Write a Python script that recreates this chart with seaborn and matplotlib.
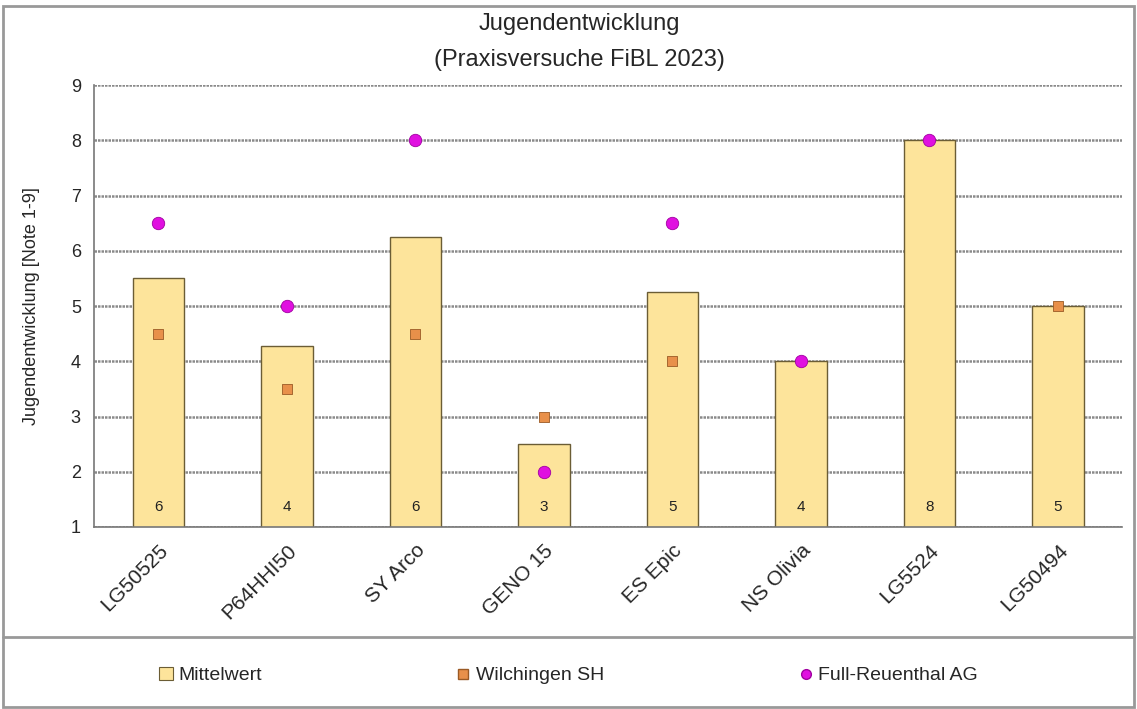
import numpy as np
import pandas as pd
import matplotlib
matplotlib.use("Agg")
import matplotlib.pyplot as plt
from matplotlib.lines import Line2D
from matplotlib.patches import Rectangle
import seaborn as sns

# Daten
sorten = ["LG50525", "P64HHI50", "SY Arco", "GENO 15", "ES Epic", "NS Olivia", "LG5524", "LG50494"]
mittelwert = [5.5, 4.27, 6.25, 2.5, 5.25, 4.0, 8.0, 5.0]
wilchingen = [4.5, 3.5, 4.5, 3.0, 4.0, np.nan, np.nan, 5.0]
full_reuenthal = [6.5, 5.0, 8.0, 2.0, 6.5, 4.0, 8.0, np.nan]
anzahl = [6, 4, 6, 3, 5, 4, 8, 5]

df = pd.DataFrame({"Sorte": sorten, "Mittelwert": mittelwert,
                   "Wilchingen SH": wilchingen, "Full-Reuenthal AG": full_reuenthal,
                   "n": anzahl})

sns.set_style("white")
plt.rcParams["font.family"] = ["Liberation Sans", "DejaVu Sans"]

fig = plt.figure(figsize=(11.37, 7.09), dpi=100)
ax = fig.add_axes([0.0827, 0.2567, 0.9043, 0.6233])

bar_col = "#FDE49B"
orange = "#E8904A"
magenta = "#E010E0"

sns.barplot(data=df, x="Sorte", y="Mittelwert", color=bar_col, width=0.4,
            edgecolor="#6b5d35", linewidth=1.0, saturation=1, ax=ax, zorder=2)
pos = np.arange(len(sorten))
sns.scatterplot(x=pos, y=df["Wilchingen SH"], marker="s", s=60, color=orange,
                edgecolor="#9a5a25", linewidth=0.6, ax=ax, zorder=3)
sns.scatterplot(x=pos, y=df["Full-Reuenthal AG"], marker="o", s=80, color=magenta,
                edgecolor="#a000a0", linewidth=0.6, ax=ax, zorder=4)

for i, n in enumerate(anzahl):
    ax.text(i, 1.36, str(n), ha="center", va="center", fontsize=11, color="#222222", zorder=5)

ax.set_ylim(1, 9)
ax.set_xlim(-0.5, len(sorten) - 0.5)
ax.set_yticks(range(1, 10))
ax.yaxis.grid(True, color="#8a8a8a", linewidth=1.8, linestyle=(0, (1, 0.4)), zorder=0)
ax.set_axisbelow(True)

ax.set_xticks(pos)
ax.set_xticklabels(sorten, rotation=45, ha="right", rotation_mode="anchor", fontsize=15)
ax.set_xticks(np.arange(-0.5, len(sorten)), minor=True)
ax.tick_params(axis="x", which="major", length=0, pad=10)
ax.tick_params(axis="x", which="minor", length=6, width=1, color="#777777", direction="out")
ax.tick_params(axis="y", length=6, width=1, color="#777777", labelsize=13, direction="out")
for s in ["top", "right"]:
    ax.spines[s].set_visible(False)
for s in ["left", "bottom"]:
    ax.spines[s].set_color("#777777")
    ax.spines[s].set_linewidth(1.2)

ax.set_xlabel("")
ax.set_ylabel("Jugendentwicklung [Note 1-9]", fontsize=13, labelpad=22)

fig.text(0.51, 0.966, "Jugendentwicklung", ha="center", va="center", fontsize=17)
fig.text(0.51, 0.916, "(Praxisversuche FiBL 2023)", ha="center", va="center", fontsize=17)

# Rahmen und Trennlinie
fig.add_artist(Rectangle((0.003, 0.003), 0.994, 0.988, transform=fig.transFigure,
                         fill=False, edgecolor="#999999", linewidth=2))
fig.add_artist(Line2D([0.003, 0.997], [0.1016, 0.1016], transform=fig.transFigure,
                      color="#999999", linewidth=2))

handles = [
    Rectangle((0, 0), 1, 1, facecolor=bar_col, edgecolor="#6b5d35", linewidth=0.8),
    Line2D([], [], marker="s", linestyle="", markersize=7, color=orange, markeredgecolor="#9a5a25"),
    Line2D([], [], marker="o", linestyle="", markersize=7, color=magenta, markeredgecolor="#a000a0"),
]
fig.legend(handles, ["Mittelwert", "Wilchingen SH", "Full-Reuenthal AG"],
           loc="center", bbox_to_anchor=(0.5, 0.047), ncol=3, frameon=False,
           fontsize=14, columnspacing=10, handlelength=0.7, handletextpad=0.3)

fig.savefig("out.png", dpi=100)
